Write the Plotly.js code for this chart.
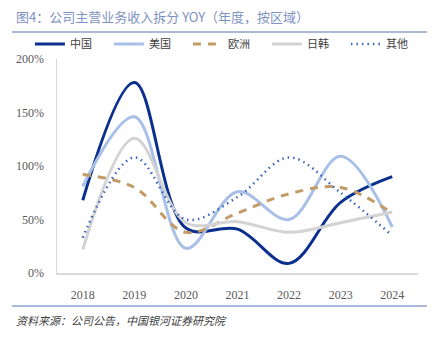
<!DOCTYPE html>
<html><head><meta charset="utf-8">
<script src="https://cdn.plot.ly/plotly-3.0.1.min.js"></script>
<style>html,body{margin:0;padding:0;background:#fff}#chart{width:443px;height:338px}</style>
</head><body><div id="chart"></div>
<script>
const years = ['2018','2019','2020','2021','2022','2023','2024'];
const china = [68, 178, 42, 41, 9, 66, 90];
const usa = [81, 146, 23, 76, 50, 109, 43];
const europe = [92, 80, 38, 56, 74, 80, 56];
const japanKorea = [22, 126, 47, 48, 38, 47, 57];
const others = [33, 108, 50, 71, 108, 75, 35];
const seriesNames = ['中国','美国','欧洲','日韩','其他'];
const yTicks = [0, 50, 100, 150, 200];
const yTickText = ['0%','50%','100%','150%','200%'];

const styles = [
  {color:'#0b2f8e', width:3, dash:'solid'},
  {color:'#a8bfe8', width:3, dash:'solid'},
  {color:'#c29b66', width:3, dash:'8px,7px'},
  {color:'#d3d3d3', width:3, dash:'solid'},
  {color:'#3b66bd', width:2.5, dash:'1.5px,4px'}
];
const data = [china, usa, europe, japanKorea, others].map((v,i)=>({
  x: years, y: v, type:'scatter', mode:'lines', name: seriesNames[i],
  line: Object.assign({shape:'spline', smoothing:1}, styles[i])
}));

const serif = '"Liberation Serif", "DejaVu Serif", serif';
const cjk = '"Noto Sans CJK SC", sans-serif';
const layout = {
  width:443, height:338,
  margin:{l:57, r:25, t:59, b:65},
  paper_bgcolor:'#fff', plot_bgcolor:'#fff',
  showlegend:true,
  legend:{orientation:'h', x:-0.075, xanchor:'left', y:1.07, yanchor:'middle',
    font:{family:cjk, size:11, color:'#404040'}, entrywidth:34, itemwidth:30, tracegroupgap:0,
    bgcolor:'rgba(0,0,0,0)'},
  xaxis:{type:'category', range:[-0.5, 6.5], showgrid:false, zeroline:false, showline:true, linecolor:'#d9d9d9', linewidth:1.5,
    ticks:'outside', ticklen:10, tickcolor:'rgba(0,0,0,0)', tickfont:{family:serif, size:12, color:'#595959'}, fixedrange:true},
  yaxis:{range:[0,200], tickvals:yTicks, ticktext:yTickText, showgrid:false, zeroline:false,
    showline:true, linecolor:'#d9d9d9', linewidth:1.5, ticks:'outside', ticklen:9, tickcolor:'rgba(0,0,0,0)',
    tickfont:{family:serif, size:12, color:'#595959'}, fixedrange:true},
  shapes:[
    {type:'line', xref:'paper', yref:'paper', x0:-0.125, x1:1.025, y0:1.126, y1:1.126, line:{color:'#8fa2cc', width:1.5}},
    {type:'line', xref:'paper', yref:'paper', x0:-0.125, x1:1.025, y0:-0.154, y1:-0.154, line:{color:'#8fa2cc', width:1.5}}
  ],
  annotations:[
    {text:'图4：公司主营业务收入拆分 YOY（年度，按区域）', xref:'paper', yref:'paper', x:-0.12, y:1.2, xanchor:'left', yanchor:'middle', showarrow:false,
      font:{family:cjk, size:13, color:'#7e93c4'}},
    {text:'<i>资料来源：公司公告，中国银河证券研究院</i>', xref:'paper', yref:'paper', x:-0.12, y:-0.22, xanchor:'left', yanchor:'middle', showarrow:false,
      font:{family:cjk, size:11, color:'#404040'}}
  ]
};
Plotly.newPlot('chart', data, layout, {displayModeBar:false, staticPlot:true});
</script></body></html>
